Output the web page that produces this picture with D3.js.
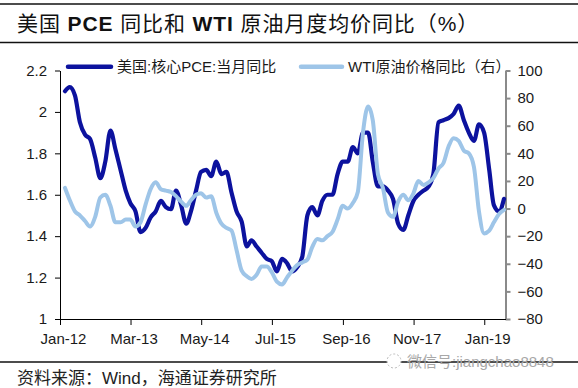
<!DOCTYPE html>
<html>
<head>
<meta charset="utf-8">
<script src="https://cdn.jsdelivr.net/npm/d3@7"></script>
<style>
body { margin: 0; background: #fff; }
svg { display: block; font-family: "Liberation Sans", Arial, "Noto Sans CJK SC", sans-serif; }
.axis text { font-size: 15px; fill: #1a1a1a; }
</style>
</head>
<body>
<div id="chart"></div>
<script>
var firstMonth = "Jan-12";
var tickLabels = ["Jan-12", "Mar-13", "May-14", "Jul-15", "Sep-16", "Nov-17", "Jan-19"];
var leftTicks = [1, 1.2, 1.4, 1.6, 1.8, 2, 2.2];
var rightTicks = [-80, -60, -40, -20, 0, 20, 40, 60, 80, 100];
var seriesNames = ["美国:核心PCE:当月同比", "WTI原油价格同比（右）"];

// core PCE y/y, Jan-12 .. Apr-19
var pce = [2.10, 2.12, 2.08, 1.95, 1.89, 1.87, 1.78, 1.68, 1.76, 1.91,
           1.82, 1.72, 1.62, 1.56, 1.52, 1.42, 1.44, 1.49, 1.52, 1.57,
           1.54, 1.53, 1.62, 1.55, 1.46, 1.52, 1.62, 1.71, 1.72, 1.69,
           1.76, 1.70, 1.71, 1.61, 1.52, 1.47, 1.35, 1.38, 1.35, 1.32,
           1.29, 1.28, 1.23, 1.29, 1.27, 1.23, 1.25, 1.30, 1.50, 1.54,
           1.50, 1.57, 1.60, 1.60, 1.70, 1.76, 1.76, 1.83, 1.80, 1.90,
           1.90, 1.76, 1.64, 1.64, 1.62, 1.58, 1.46, 1.43, 1.50, 1.57,
           1.60, 1.62, 1.64, 1.70, 1.95, 1.96, 1.97, 1.99, 2.03, 1.96,
           1.90, 1.86, 1.94, 1.90, 1.72, 1.55, 1.52, 1.58];

// WTI monthly average price y/y (%), Jan-12 .. Apr-19
var wti = [15, 6, -2, -5, -9, -13, -6, 8, 10, 2,
           -10, -10, -8, -8, -13, -10, 3, 14, 19, 14,
           13, 12, 9, 5, 2, 6, 10, 11, 8, 9,
           -3, -11, -14, -16, -30, -45, -49, -51, -48, -42,
           -42, -46, -53, -55, -50, -45, -41, -39, -37, -28,
           -22, -23, -20, -17, -8, 2, 0, 4, 12, 55,
           74, 64, 25, 15, -3, -6, 5, 10, 6, 11,
           20, 17, 19, 22, 29, 33, 45, 51, 49, 42,
           40, 30, -2, -18, -16, -10, -4, -1];

var svgWidth = 578;
var svgHeight = 388;

var parseMonth = d3.utcParse("%b-%y");
var start = parseMonth(firstMonth);
// monthly points sit at month end
var dates = pce.map(function (d, i) {
    return d3.utcDay.offset(d3.utcMonth.offset(start, i + 1), -1);
});
var tickDates = tickLabels.map(parseMonth);

var svg = d3.select("#chart")
    .append("svg")
    .attr("width", svgWidth)
    .attr("height", svgHeight);

var xScale = d3.scaleUtc()
    .domain([start, d3.utcDay.offset(d3.utcMonth.offset(start, 88), 8)])
    .range([60, 505.5]);

var yLeft = d3.scaleLinear()
    .domain([1, 2.2])
    .range([319, 70.5]);

var yRight = d3.scaleLinear()
    .domain([-80, 100])
    .range([319, 70.5]);

// header rules and title
svg.append("line").attr("x1", 0).attr("x2", svgWidth).attr("y1", 4).attr("y2", 4)
    .attr("stroke", "#111").attr("stroke-width", 1.5);
svg.append("line").attr("x1", 0).attr("x2", svgWidth).attr("y1", 42.5).attr("y2", 42.5)
    .attr("stroke", "#111").attr("stroke-width", 1.5);

var title = svg.append("text")
    .attr("x", 17)
    .attr("y", 31)
    .attr("font-size", "21px")
    .attr("letter-spacing", "0.9px")
    .attr("fill", "#111");
title.append("tspan").text("美国 ");
title.append("tspan").attr("font-weight", "bold").text("PCE");
title.append("tspan").text(" 同比和 ");
title.append("tspan").attr("font-weight", "bold").text("WTI");
title.append("tspan").text(" 原油月度均价同比（%）");

// axes
var leftAxis = d3.axisLeft(yLeft)
    .tickValues(leftTicks)
    .tickFormat(d3.format("~g"))
    .tickSize(5)
    .tickSizeOuter(0)
    .tickPadding(8);

var rightAxis = d3.axisRight(yRight)
    .tickValues(rightTicks)
    .tickSize(5)
    .tickSizeOuter(0)
    .tickPadding(7);

var bottomAxis = d3.axisBottom(xScale)
    .tickValues(tickDates)
    .tickFormat(d3.utcFormat("%b-%y"))
    .tickSize(6)
    .tickSizeOuter(0)
    .tickPadding(8);

var gLeft = svg.append("g")
    .attr("class", "axis")
    .attr("transform", "translate(60,0)")
    .call(leftAxis);
gLeft.selectAll("path, line").attr("stroke", "#000");

var gRight = svg.append("g")
    .attr("class", "axis")
    .attr("transform", "translate(505.5,0)")
    .call(rightAxis);
gRight.selectAll("path, line").attr("stroke", "#8a8a8a").attr("stroke-width", 2);

var gBottom = svg.append("g")
    .attr("class", "axis")
    .attr("transform", "translate(0,319)")
    .call(bottomAxis);
gBottom.selectAll("path, line").attr("stroke", "#000");
gBottom.selectAll("text").attr("x", 3);

// lines
var pceLine = d3.line()
    .x(function (d, i) { return xScale(dates[i]); })
    .y(function (d) { return yLeft(d); })
    .curve(d3.curveMonotoneX);

var wtiLine = d3.line()
    .x(function (d, i) { return xScale(dates[i]); })
    .y(function (d) { return yRight(d); })
    .curve(d3.curveMonotoneX);

svg.append("path")
    .datum(pce)
    .attr("d", pceLine)
    .attr("fill", "none")
    .attr("stroke", "#0c129e")
    .attr("stroke-width", 4.2)
    .attr("stroke-linejoin", "round")
    .attr("stroke-linecap", "round");

svg.append("path")
    .datum(wti)
    .attr("d", wtiLine)
    .attr("fill", "none")
    .attr("stroke", "#9ec5e8")
    .attr("stroke-width", 4)
    .attr("stroke-linejoin", "round")
    .attr("stroke-linecap", "round");

// legend
svg.append("line").attr("x1", 68).attr("x2", 111).attr("y1", 66.7).attr("y2", 66.7)
    .attr("stroke", "#0c129e").attr("stroke-width", 4.5).attr("stroke-linecap", "round");
svg.append("text").attr("x", 117).attr("y", 72).attr("font-size", "15px").attr("fill", "#1a1a1a")
    .text(seriesNames[0]);

svg.append("line").attr("x1", 301).attr("x2", 342).attr("y1", 66.7).attr("y2", 66.7)
    .attr("stroke", "#9ec5e8").attr("stroke-width", 4.5).attr("stroke-linecap", "round");
svg.append("text").attr("x", 348).attr("y", 72).attr("font-size", "15px").attr("fill", "#1a1a1a")
    .text(seriesNames[1]);

// footer
svg.append("line").attr("x1", 0).attr("x2", svgWidth).attr("y1", 362).attr("y2", 362)
    .attr("stroke", "#111").attr("stroke-width", 1.3);

svg.append("circle").attr("cx", 394).attr("cy", 361).attr("r", 7)
    .attr("fill", "#fff").attr("stroke", "#bbb").attr("stroke-dasharray", "2,2");
svg.append("text").attr("x", 407).attr("y", 367).attr("font-size", "15px").attr("fill", "#a8a8a8")
    .text("微信号:jiangchao8848");

svg.append("text")
    .attr("x", 17)
    .attr("y", 384)
    .attr("font-size", "17px")
    .attr("fill", "#222")
    .text("资料来源：Wind，海通证券研究所");
</script>
</body>
</html>
